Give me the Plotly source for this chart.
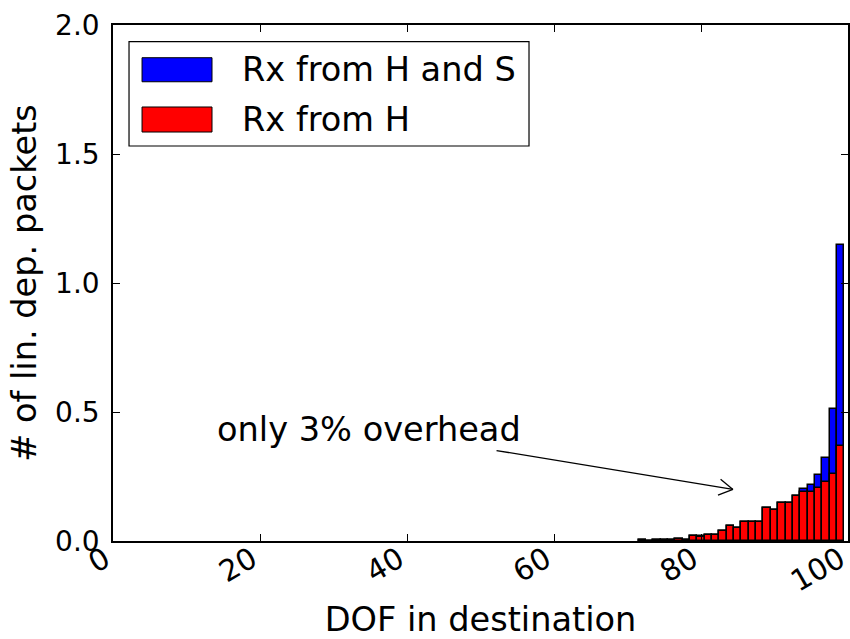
import math
import plotly.graph_objects as go

# ---- data ----
dof = list(range(72, 100))
rx_h = [0.003, 0.001, 0.002, 0.004, 0.003, 0.008, 0.005, 0.018, 0.015, 0.024,
        0.025, 0.040, 0.058, 0.052, 0.074, 0.074, 0.074, 0.129, 0.121, 0.146,
        0.147, 0.174, 0.190, 0.190, 0.207, 0.230, 0.261, 0.368]
rx_hs = [0.003, 0.001, 0.002, 0.004, 0.003, 0.008, 0.005, 0.018, 0.019, 0.024,
         0.025, 0.040, 0.058, 0.052, 0.074, 0.074, 0.074, 0.129, 0.121, 0.146,
         0.147, 0.174, 0.203, 0.216, 0.255, 0.323, 0.510, 1.146]
series_names = ["Rx from H and S", "Rx from H"]
series_colors = ["#0000ff", "#ff0000"]
x_ticks = [0, 20, 40, 60, 80, 100]
y_ticks = [0.0, 0.5, 1.0, 1.5, 2.0]
note_text = "only 3% overhead"
note_xy = (84.35, 0.20)
note_text_xy = (34.8, 0.432)

FONT = "DejaVu Sans"

fig = go.Figure()
for vals, name, col in zip([rx_hs, rx_h], series_names, series_colors):
    fig.add_trace(go.Bar(x=dof, y=vals, name=name, width=1.0,
                         marker=dict(color=col, line=dict(color="black", width=1.5)),
                         showlegend=False))

# annotation arrow (line part)
fig.add_annotation(x=note_xy[0], y=note_xy[1], ax=note_text_xy[0], ay=note_text_xy[1],
                   xref="x", yref="y", axref="x", ayref="y", text=note_text,
                   showarrow=True, arrowhead=0, arrowwidth=1.3, arrowcolor="black",
                   font=dict(family=FONT, size=33.6, color="black"))

# open "->" arrow head, built from the tip in pixel space
px_per_x = 735 / 100.0
px_per_y = 516 / 2.0
dxp = (note_xy[0] - note_text_xy[0]) * px_per_x
dyp = (note_xy[1] - note_text_xy[1]) * px_per_y
ang = math.atan2(dyp, dxp)
arm = 16
for s in (+1, -1):
    a = ang + math.pi + s * math.radians(30)
    ex = note_xy[0] + arm * math.cos(a) / px_per_x
    ey = note_xy[1] + arm * math.sin(a) / px_per_y
    fig.add_shape(type="line", xref="x", yref="y", x0=note_xy[0], y0=note_xy[1],
                  x1=ex, y1=ey, line=dict(color="black", width=1.3))

# custom matplotlib-like legend
fig.add_shape(type="rect", xref="paper", yref="paper", x0=0.0218, x1=0.566,
              y0=0.7655, y1=0.9676, line=dict(color="black", width=1.2),
              fillcolor="white", layer="above")
rows = [(0.890, 0.9366), (0.7926, 0.8411)]
for (y0, y1), name, col in zip(rows, series_names, series_colors):
    fig.add_shape(type="rect", xref="paper", yref="paper", x0=0.0395, x1=0.1347,
                  y0=y0, y1=y1, line=dict(color="black", width=1),
                  fillcolor=col, layer="above")
    fig.add_annotation(xref="paper", yref="paper", x=0.1728, y=(y0 + y1) / 2,
                       text=name, showarrow=False, xanchor="left", yanchor="middle",
                       font=dict(family=FONT, size=33.6, color="black"))

fig.update_layout(
    width=850, height=639,
    margin=dict(l=113, r=2, t=25, b=98, autoexpand=False),
    paper_bgcolor="white", plot_bgcolor="white",
    barmode="overlay", bargap=0,
    font=dict(family=FONT, color="black"),
)
fig.update_xaxes(range=[0, 100], tickvals=x_ticks,
                 ticktext=[str(t) for t in x_ticks],
                 tickangle=-30, tickfont=dict(size=29.5), ticks="inside", ticklen=7,
                 tickcolor="black", showline=True, linecolor="black", linewidth=1.5,
                 mirror="allticks", showgrid=False, zeroline=False,
                 ticklabelstandoff=-12, ticklabelshift=-8, ticklabeloverflow="allow",
                 automargin=False,
                 title=dict(text="DOF in destination", font=dict(size=33.6), standoff=16))
fig.update_yaxes(range=[0, 2.0], tickvals=y_ticks, ticktext=[f"{t:.1f}" for t in y_ticks],
                 tickfont=dict(size=28), ticks="inside", ticklen=7,
                 tickcolor="black", showline=True, linecolor="black", linewidth=1.5,
                 mirror="allticks", showgrid=False, zeroline=False, ticklabelstandoff=6,
                 automargin=False,
                 title=dict(text="# of lin. dep. packets", font=dict(size=33.6), standoff=8))

fig.write_html("out.html")
